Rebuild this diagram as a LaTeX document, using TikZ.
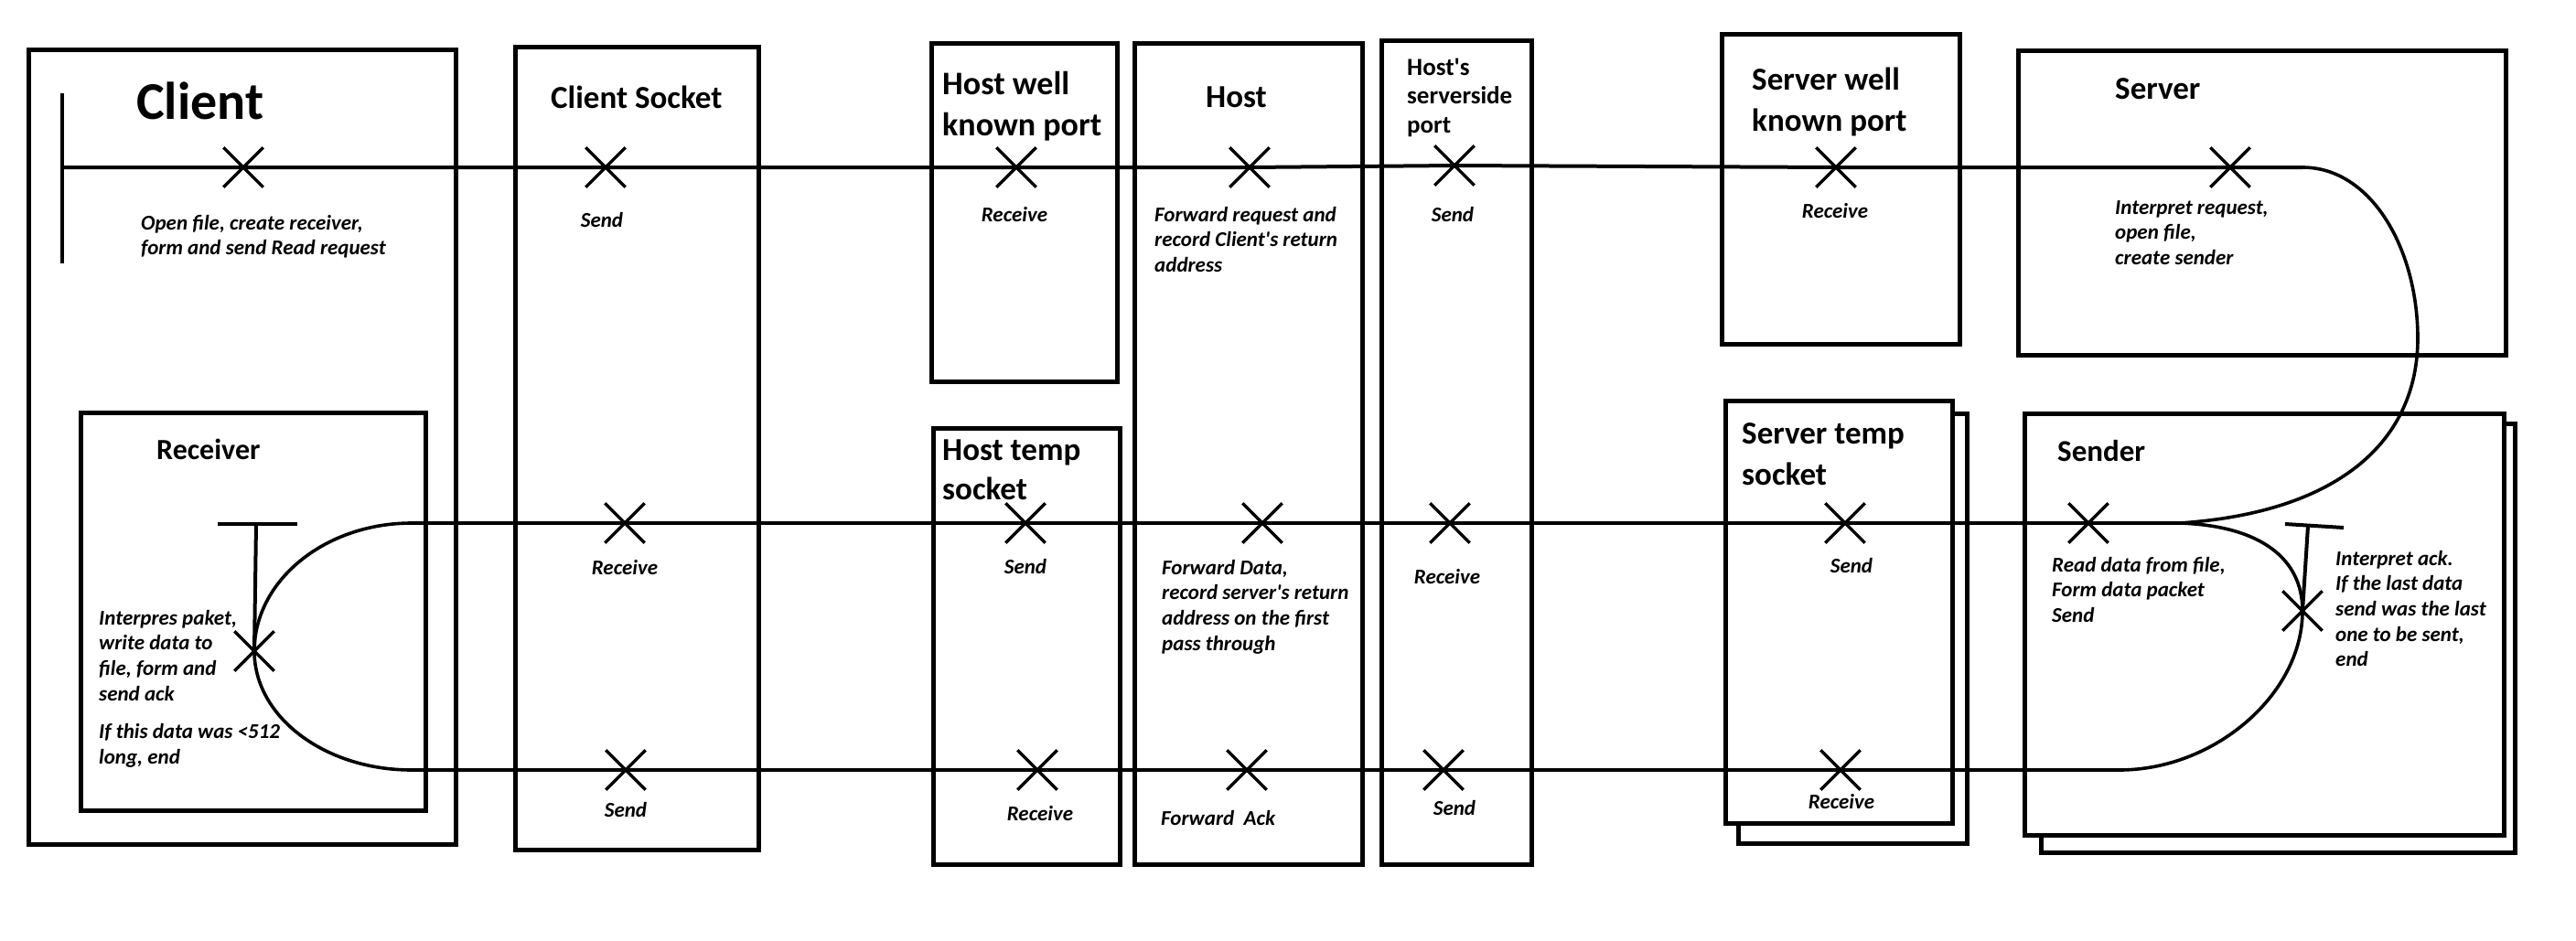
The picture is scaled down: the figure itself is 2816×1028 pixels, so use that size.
\documentclass[tikz,border=0pt]{standalone}
\usepackage{fontspec}
\setmainfont{Carlito}
\usetikzlibrary{shapes.misc}
\newcommand{\mltext}[1]{\begin{tabular}[t]{@{}l@{}}#1\end{tabular}}
\newcommand{\sq}{\textquotesingle}
\begin{document}
\begin{tikzpicture}[x=1pt,y=-1pt,
  box/.style={draw, line width=5pt, fill=white},
  flow/.style={line width=4pt},
  curv/.style={line width=3.6pt},
  xmark/.style={cross out, draw, minimum size=40pt, inner sep=0pt, line width=3.3pt},
  tbar/.style={line width=4pt},
  ttl/.style args={#1/#2}{inner sep=0pt, anchor=base west, font=\fontsize{#1}{#2}\selectfont\bfseries},
  lbl/.style={inner sep=0pt, anchor=base west, font=\fontsize{23}{27.7}\selectfont\bfseries\itshape},
  clbl/.style={lbl, anchor=base},
]
\fill[white] (0,0) rectangle (2816,1028);
\useasboundingbox (0,0) rectangle (2816,1028);

% boxes
\draw[box] (31,54) rectangle (498,923);
\draw[box] (88,451) rectangle (465,886);
\draw[box] (563,51) rectangle (829,929);
\draw[box] (1018,47) rectangle (1221,417);
\draw[box] (1020,468) rectangle (1224,945);
\draw[box] (1240,47) rectangle (1489,945);
\draw[box] (1510,44) rectangle (1674,945);
\draw[box] (1882,37) rectangle (2142,376);
\draw[box] (2206,55) rectangle (2739,388);
\draw[box] (1900,452) rectangle (2150,922);
\draw[box] (1886,438) rectangle (2134,900);
\draw[box] (2231,463) rectangle (2749,932);
\draw[box] (2213,452) rectangle (2737,913);

% titles
\node[ttl=58/70] (tClient) at (149,130) {Client};
\node[ttl=35/44] (tCSock) at (602,118) {Client Socket};
\node[ttl=32/40] (tRecv) at (171,502) {Receiver};
\node[ttl=36/45] (tHWKP) at (1030,103) {\mltext{Host well\\known port}};
\node[ttl=35/44] (tHost) at (1318,117) {Host};
\node[ttl=27/31.5] (tHSP) at (1538,82) {\mltext{Host\sq s\\serverside\\port}};
\node[ttl=35/43] (tHTS) at (1030,503) {\mltext{Host temp\\socket}};
\node[ttl=35/45] (tSWKP) at (1915,98) {\mltext{Server well\\known port}};
\node[ttl=35/44] (tServer) at (2312,108) {Server};
\node[ttl=35/45] (tSTS) at (1904,485) {\mltext{Server temp\\socket}};
\node[ttl=33/40] (tSender) at (2249,504) {Sender};

% labels
\node[lbl] (lClient) at (154,251) {\mltext{Open file, create receiver,\\form and send Read request}};
\node[clbl] (lCS1) at (658,248) {Send};
\node[clbl] (lHWKP) at (1109,242) {Receive};
\node[lbl] (lHost1) at (1262,242) {\mltext{Forward request and\\record Client\sq s return\\address}};
\node[clbl] (lHSP1) at (1588,242) {Send};
\node[clbl] (lSWKP) at (2006,238) {Receive};
\node[lbl] (lServer) at (2312,234) {\mltext{Interpret request,\\open file,\\create sender}};
\node[lbl] (lRecv) at (108,683) {\mltext{Interpres paket,\\write data to\\file, form and\\send ack\\[14pt]If this data was <512\\long, end}};
\node[clbl] (lCS2) at (683,628) {Receive};
\node[clbl] (lHTS1) at (1121,627) {Send};
\node[lbl] (lHost2) at (1270,628) {\mltext{Forward Data,\\record server\sq s return\\address on the first\\pass through}};
\node[clbl] (lHSP2) at (1582,638) {Receive};
\node[clbl] (lSTS1) at (2024,626) {Send};
\node[lbl] (lSender) at (2243,625) {\mltext{Read data from file,\\Form data packet\\Send}};
\node[lbl] (lAck) at (2553,618) {\mltext{Interpret ack.\\If the last data\\send was the last\\one to be sent,\\end}};
\node[clbl] (lCS3) at (684,893) {Send};
\node[clbl] (lHTS2) at (1137,897) {Receive};
\node[lbl] (lHost3) at (1269,902) {Forward\ \ Ack};
\node[clbl] (lHSP3) at (1590,891) {Send};
\node[clbl] (lSTS2) at (2013,884) {Receive};

% X marks
\node[xmark] (xt1) at (266,183) {};
\node[xmark] (xt2) at (662,183) {};
\node[xmark] (xt3) at (1111,183) {};
\node[xmark] (xt4) at (1366,183) {};
\node[xmark] (xt5) at (1590,181) {};
\node[xmark] (xt6) at (2007,183) {};
\node[xmark] (xt7) at (2438,183) {};
\node[xmark] (xrc) at (278,712) {};
\node[xmark] (xm1) at (683,572) {};
\node[xmark] (xm2) at (1121,572) {};
\node[xmark] (xm3) at (1380,572) {};
\node[xmark] (xm4) at (1585,572) {};
\node[xmark] (xm5) at (2017,572) {};
\node[xmark] (xm6) at (2283,572) {};
\node[xmark] (xsc) at (2517,668) {};
\node[xmark] (xb1) at (684,842) {};
\node[xmark] (xb2) at (1134,842) {};
\node[xmark] (xb3) at (1363,842) {};
\node[xmark] (xb4) at (1578,842) {};
\node[xmark] (xb5) at (2012,842) {};

% coordinates
\coordinate (vbTop) at (68,102);
\coordinate (vbBot) at (68,288);
\coordinate (vbMid) at (68,183);
\coordinate (topEnd) at (2517,183);
\coordinate (bulge) at (2643,370);
\coordinate (cusp) at (2383,572);
\coordinate (lt) at (450,572);
\coordinate (lb) at (450,842);
\coordinate (rb) at (2317,842);
\coordinate (tlA) at (238,573);
\coordinate (tlB) at (325,573);
\coordinate (tlC) at (280,573);
\coordinate (trA) at (2498,573);
\coordinate (trB) at (2562,577);
\coordinate (trC) at (2523,575);

% client start bar
\draw[line width=4pt] (vbTop) -- (vbBot);

% top line
\draw[flow] (vbMid) -- (xt1.center) -- (xt2.center) -- (xt3.center) -- (xt4.center) -- (xt5.center) -- (xt6.center) -- (xt7.center) -- (topEnd);
\draw[curv] (topEnd) .. controls (2592,183) and (2643,272) .. (bulge)
  .. controls (2643,480) and (2560,560) .. (cusp);

% middle line
\draw[flow] (lt) -- (xm1.center) -- (xm2.center) -- (xm3.center) -- (xm4.center) -- (xm5.center) -- (xm6.center) -- (cusp);

% bottom line
\draw[flow] (lb) -- (xb1.center) -- (xb2.center) -- (xb3.center) -- (xb4.center) -- (xb5.center) -- (rb);

% left loop
\draw[curv] (lt) .. controls (355,572) and (278,635) .. (xrc.center)
  .. controls (278,784) and (355,842) .. (lb);
% right loop
\draw[curv] (cusp) .. controls (2470,575) and (2517,610) .. (xsc.center)
  .. controls (2517,760) and (2420,842) .. (rb);

% T bars
\draw[tbar] (tlA) -- (tlB);
\draw[tbar] (tlC) -- (xrc.center);
\draw[tbar] (trA) -- (trB);
\draw[tbar] (trC) -- (xsc.center);
\end{tikzpicture}
\end{document}
